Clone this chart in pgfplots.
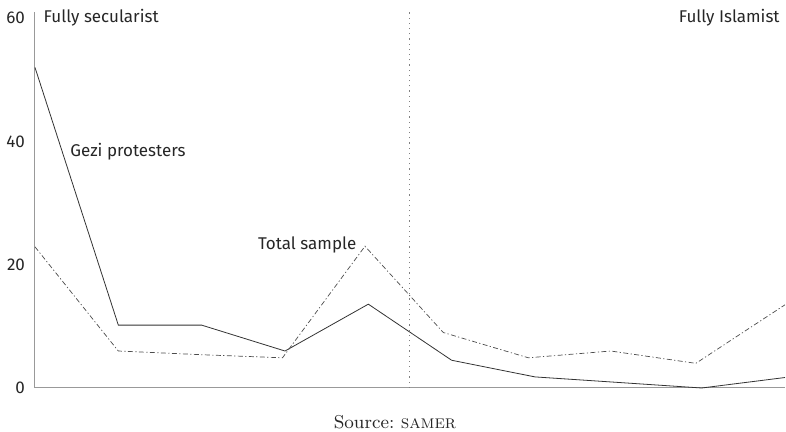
\documentclass[border=0pt]{standalone}
\usepackage{fontspec}
\setsansfont{Fira Sans}
\usepackage{pgfplots}
\pgfplotsset{compat=1.18}
\frenchspacing
\begin{document}
\begin{tikzpicture}
\useasboundingbox (-17.5pt,-22pt) rectangle (375.5pt,194pt);
\begin{axis}[
  at={(0,0)}, anchor=south west,
  scale only axis, width=375pt, height=188pt,
  xmin=0, xmax=9, ymin=0, ymax=61,
  axis lines=left,
  x axis line style={-, draw=gray!80, line width=0.5pt},
  y axis line style={-, draw=gray!80, line width=0.5pt},
  xtick=\empty,
  ytick={0,20,40,60},
  major tick length=0pt,
  tick label style={font=\sffamily\fontsize{8.5}{10}\selectfont, text=black!85, /pgf/number format/assume math mode=true},
  yticklabel style={xshift=-1.5pt},
  clip=false,
]
\addplot[black!80, line width=0.4pt] coordinates {
 (0,52) (1,10.2) (2,10.2) (3,6.0) (4,13.6) (5,4.5) (6,1.8) (7,0.9) (8,0) (9,1.7)};
\addplot[black!70, line width=0.35pt, dash pattern=on 2.5pt off 1.2pt on 0.6pt off 1.2pt] coordinates {
 (0,22.9) (1,6.0) (2,5.4) (2.97,4.9) (3.96,23.0) (4.9,9.0) (5.92,4.9) (6.91,6.0) (7.93,4.0) (9,13.5)};
\draw[gray, line width=0.5pt, dash pattern=on 0.6pt off 2pt] (axis cs:4.5,0) -- (axis cs:4.5,61);
\node[anchor=west, font=\sffamily\fontsize{8.5}{10}\selectfont, text=black!85, inner sep=0pt] at (axis cs:0.1,60) {Fully secularist};
\node[anchor=east, font=\sffamily\fontsize{8.5}{10}\selectfont, text=black!85, inner sep=0pt] at (axis cs:8.94,60) {Fully Islamist};
\node[anchor=west, font=\sffamily\fontsize{8.5}{10}\selectfont, text=black!85, inner sep=0pt] at (axis cs:0.42,38.3) {Gezi protesters};
\node[anchor=east, font=\sffamily\fontsize{8.5}{10}\selectfont, text=black!85, inner sep=0pt] at (axis cs:3.86,23.2) {Total sample};
\node[anchor=center, font=\rmfamily\fontsize{9.3}{11}\selectfont, text=black!85, inner sep=0pt] at ([yshift=-17pt]axis cs:4.32,0) {Source: \textsc{samer}};
\end{axis}
\end{tikzpicture}
\end{document}
